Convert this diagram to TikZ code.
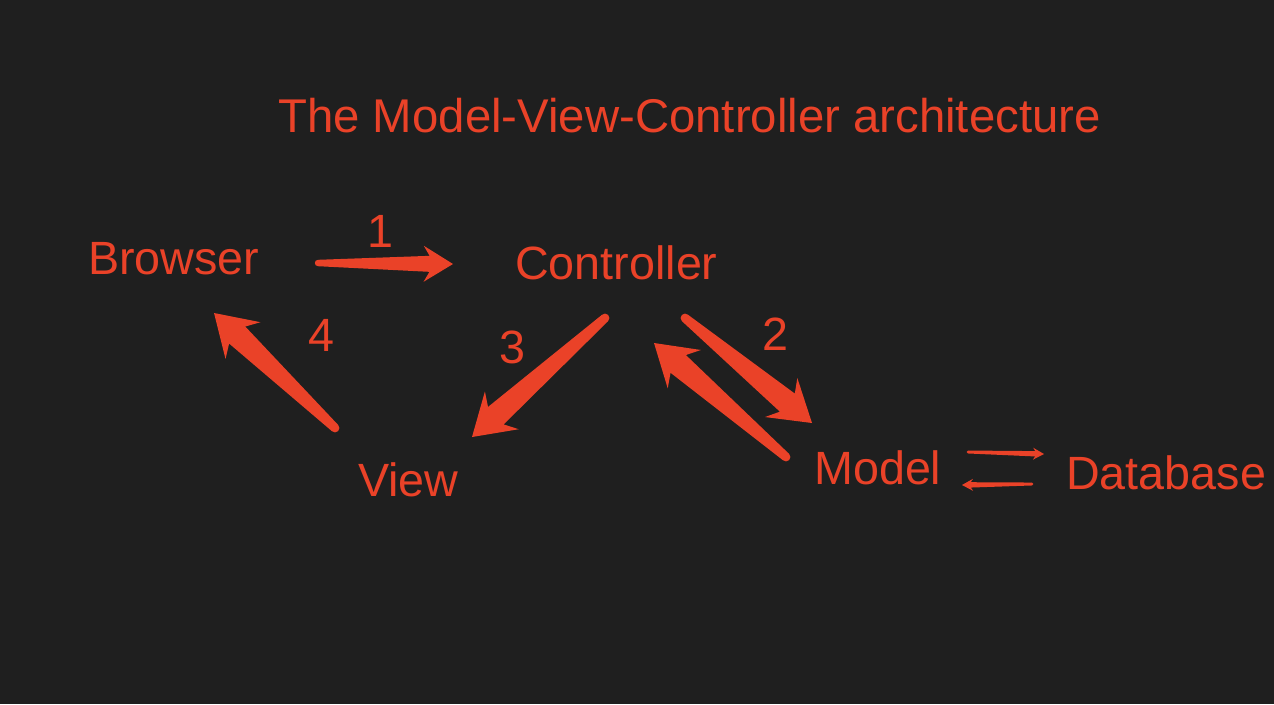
\documentclass[tikz,border=0pt]{standalone}
\usepackage{fontspec}
\setmainfont{Liberation Sans}
\usetikzlibrary{calc}

\definecolor{mvcbg}{RGB}{31,31,31}
\definecolor{mvcred}{RGB}{234,66,40}

% tapered arrow: #1 tail, #2 tip, #3 tail half width, #4 neck half width, #5 head length, #6 head half width
\newcommand{\taperarrow}[6]{%
  \path ($(#2)!#5!(#1)$) coordinate (taperhb) ($(#2)!0.8*#5!(#1)$) coordinate (taperhn);
  \fill[mvcred] ($(#1)!#3!90:(#2)$) -- ($(taperhn)!#4!90:(#2)$) -- ($(taperhb)!#6!90:(#2)$) -- (#2)
    -- ($(taperhb)!#6!-90:(#2)$) -- ($(taperhn)!#4!-90:(#2)$) -- ($(#1)!#3!-90:(#2)$) -- cycle;
  \fill[mvcred] (#1) circle[radius=#3];
}

\tikzset{
  mvclabel/.style={text=mvcred, inner sep=0pt, anchor=base west, font=\fontsize{35}{40}\selectfont},
  mvcnum/.style={text=mvcred, inner sep=0pt, anchor=base, font=\fontsize{35}{40}\selectfont}
}

\begin{document}
\begin{tikzpicture}[x=0.75pt,y=0.75pt,yscale=-1,xscale=1]
%background, fixes the size of the picture
\fill[mvcbg] (0,0) rectangle (1274,704);

% Text Node
\node (title) [mvclabel, font=\fontsize{35.5}{40}\selectfont] at (278,132) {The Model-View-Controller architecture};
% Text Node
\node (browser) [mvclabel] at (88,274) {Browser};
% Text Node
\node (controller) [mvclabel] at (515,279) {Controller};
% Text Node
\node (view) [mvclabel] at (358,496) {View};
% Text Node
\node (model) [mvclabel] at (814,484) {Model};
% Text Node
\node (database) [mvclabel] at (1066,489) {Database};

% Text Node
\node (one) [mvcnum] at (380,247) {1};
% Text Node
\node (two) [mvcnum] at (775,350) {2};
% Text Node
\node (three) [mvcnum] at (512,363) {3};
% Text Node
\node (four) [mvcnum] at (321,351) {4};

%arrow ends
\coordinate (bc1) at (318,263);  \coordinate (bc2) at (453,264);
\coordinate (cm1) at (685,318);  \coordinate (cm2) at (812,423);
\coordinate (mc1) at (786,457);  \coordinate (mc2) at (654,343);
\coordinate (cv1) at (605,318);  \coordinate (cv2) at (472,437);
\coordinate (vb1) at (335,428);  \coordinate (vb2) at (214,313);
\coordinate (md1) at (968,452);  \coordinate (md2) at (1044,454);
\coordinate (dm1) at (1032,484); \coordinate (dm2) at (962,485);

%Arrows
\taperarrow{bc1}{bc2}{2.4pt}{6pt}{22pt}{13.5pt}
\taperarrow{cm1}{cm2}{3.3pt}{8.8pt}{30pt}{19pt}
\taperarrow{mc1}{mc2}{3.3pt}{8.8pt}{30pt}{19pt}
\taperarrow{cv1}{cv2}{3.3pt}{8.8pt}{30pt}{19pt}
\taperarrow{vb1}{vb2}{3.3pt}{8.8pt}{30pt}{19pt}
\taperarrow{md1}{md2}{1.1pt}{2pt}{8.25pt}{4.5pt}
\taperarrow{dm1}{dm2}{1.1pt}{2pt}{8.25pt}{4.5pt}

\end{tikzpicture}
\end{document}
